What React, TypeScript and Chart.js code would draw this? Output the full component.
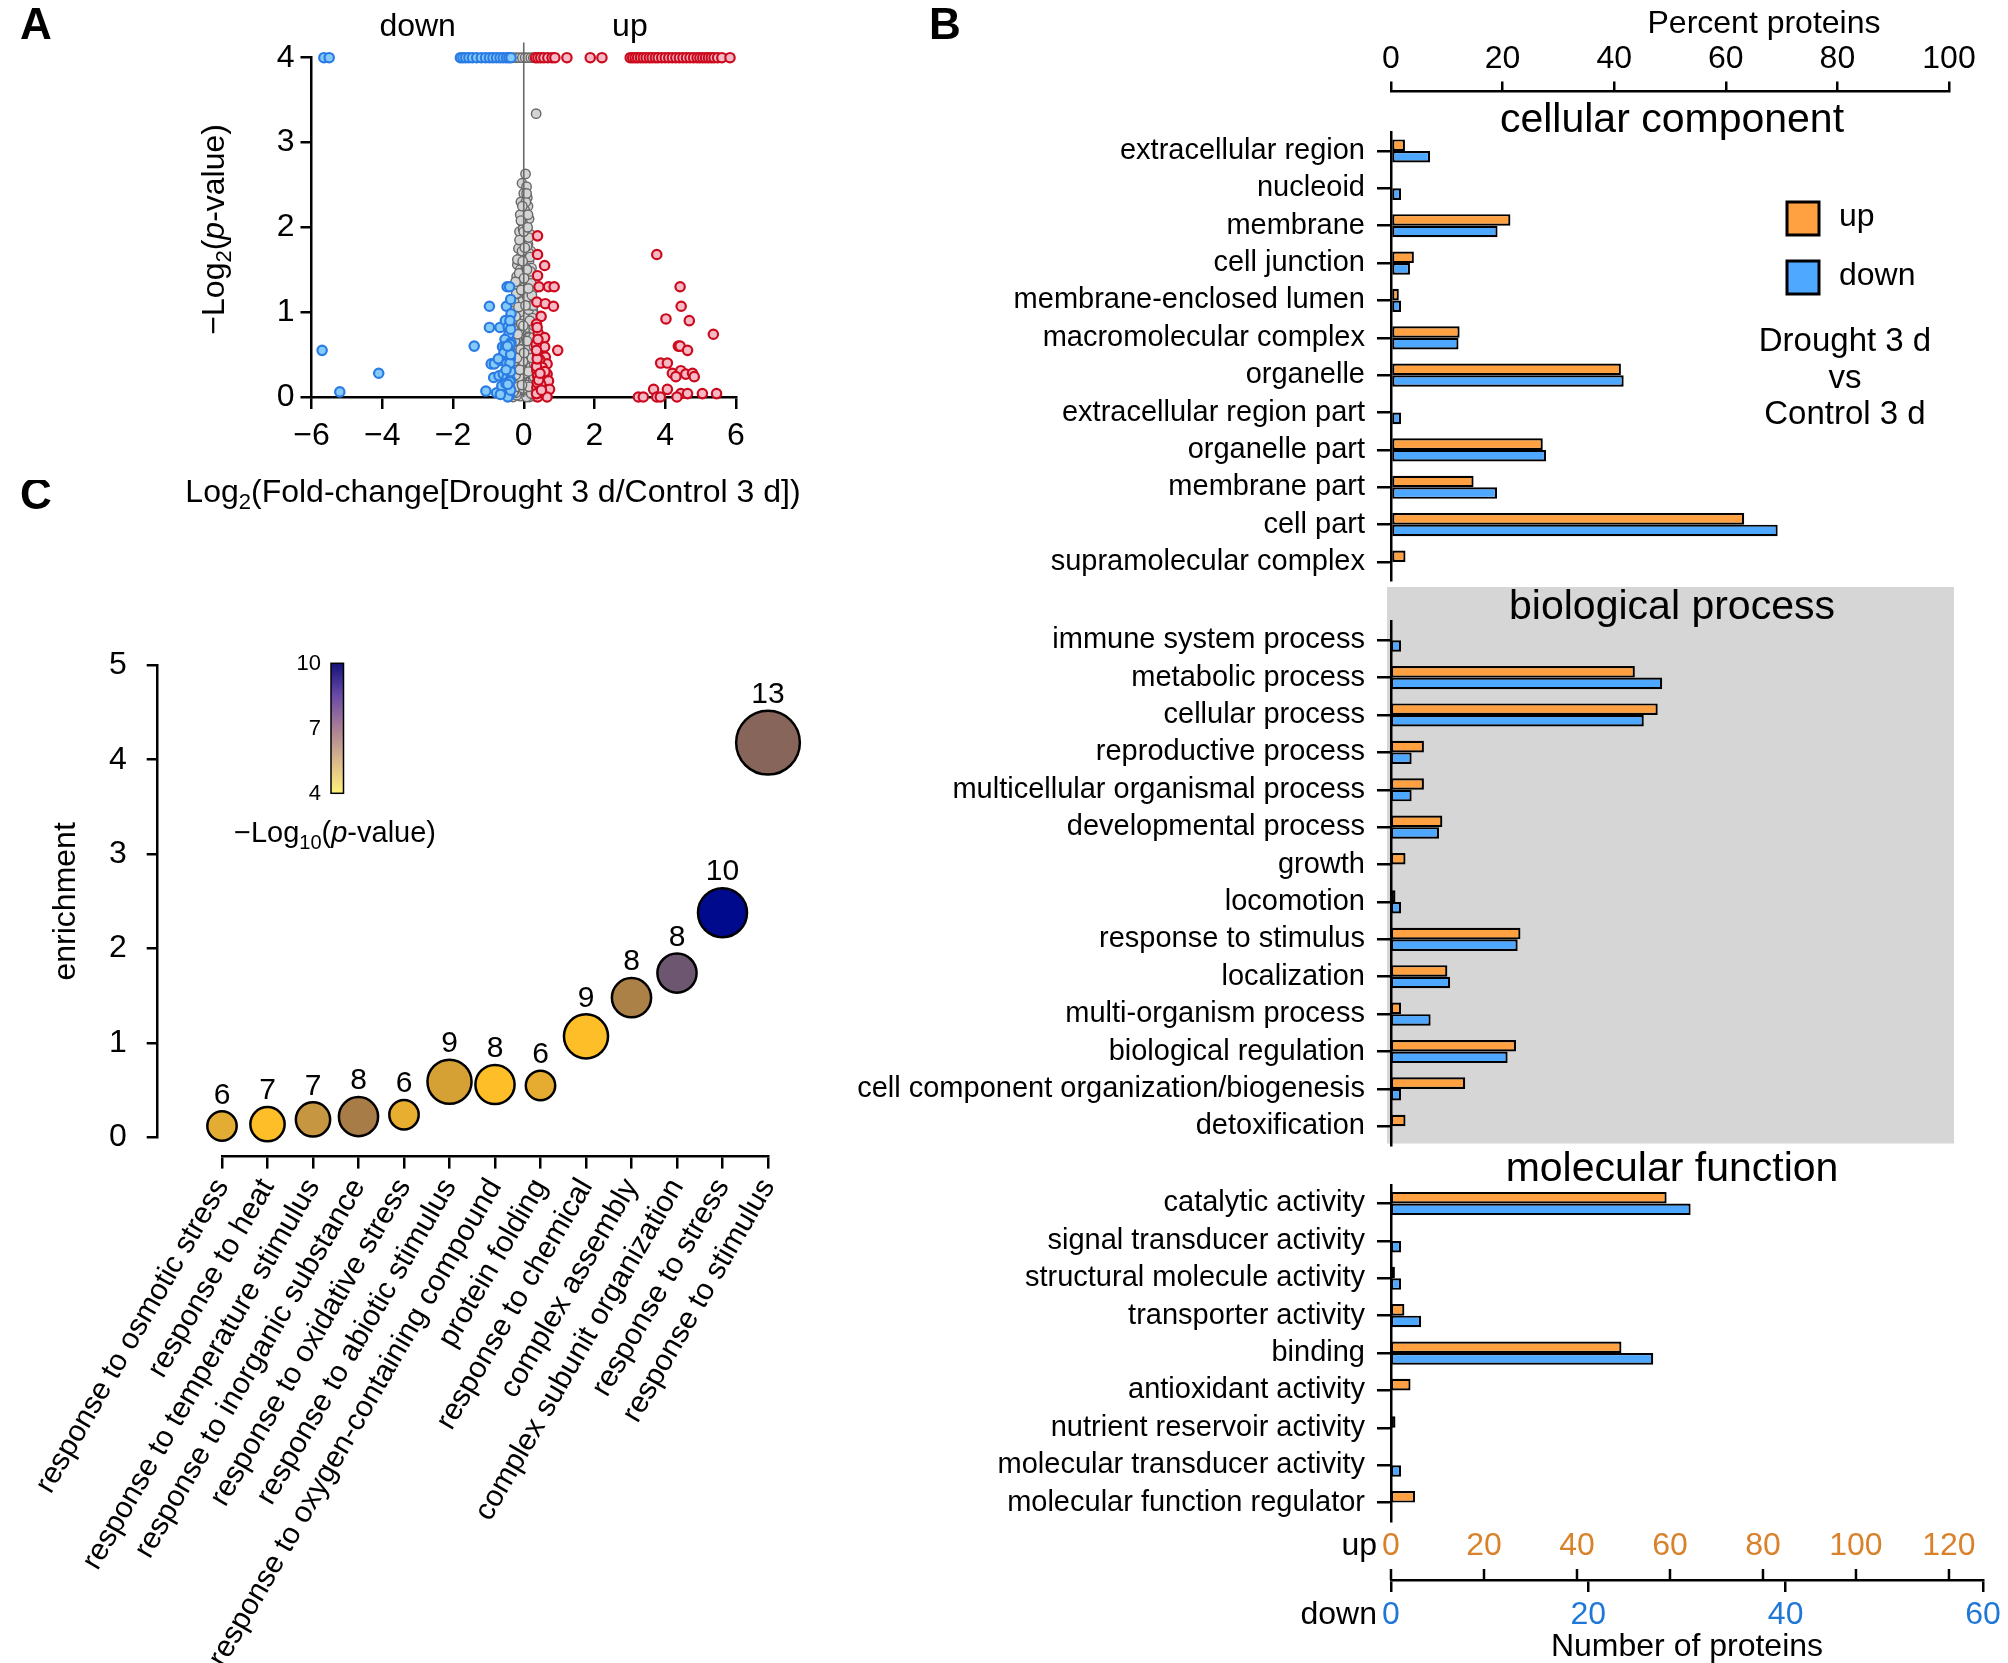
import React, { useEffect, useRef } from 'react';
import { Chart, registerables } from 'chart.js';

Chart.register(...registerables);

const FF = '"Liberation Sans", Arial, Helvetica, sans-serif';
Chart.defaults.font.family = FF;
Chart.defaults.color = '#000';

// ---------------- Panel A : volcano plot ----------------
const grayPts: number[][] = [
  [0.05, 2.63], [-0.05, 2.52], [0.08, 2.48], [0.0, 2.4], [0.1, 2.35], [-0.08, 2.3], [0.12, 2.25], [0.03, 2.2],
  [-0.1, 2.15], [0.15, 2.1], [-0.03, 2.05], [0.08, 2.0], [-0.12, 1.95], [0.18, 1.92], [0.02, 1.88], [-0.06, 1.82],
  [0.12, 1.8], [-0.15, 1.75], [0.2, 1.72], [0.05, 1.68], [-0.1, 1.64], [0.15, 1.6], [-0.18, 1.56], [0.0, 1.55],
  [0.22, 1.52], [-0.05, 1.48], [0.1, 1.45], [-0.2, 1.42], [0.18, 1.4], [0.03, 1.36], [-0.12, 1.33], [0.25, 1.3],
  [-0.25, 1.28], [0.08, 1.25], [-0.03, 1.22], [0.16, 1.2], [-0.18, 1.18], [0.22, 1.15], [0.0, 1.12], [-0.1, 1.1],
  [0.12, 1.06], [-0.22, 1.04], [0.26, 1.02], [0.05, 1.0], [-0.15, 0.97], [0.18, 0.95], [-0.05, 0.92], [0.28, 0.9],
  [-0.26, 0.88], [0.1, 0.86], [-0.1, 0.84], [0.2, 0.82], [0.0, 0.8], [-0.2, 0.78], [0.14, 0.76], [-0.28, 0.74],
  [0.25, 0.72], [0.06, 0.7], [-0.08, 0.68], [0.3, 0.66], [-0.16, 0.64], [0.12, 0.62], [-0.02, 0.6], [0.22, 0.58],
  [-0.24, 0.56], [0.08, 0.54], [-0.12, 0.52], [0.28, 0.5], [0.0, 0.48], [-0.3, 0.46], [0.16, 0.45], [-0.06, 0.43],
  [0.24, 0.41], [-0.2, 0.4], [0.1, 0.38], [-0.14, 0.36], [0.3, 0.35], [0.02, 0.33], [-0.26, 0.32], [0.18, 0.3],
  [-0.08, 0.28], [0.26, 0.27], [-0.18, 0.25], [0.06, 0.24], [-0.3, 0.22], [0.14, 0.21], [-0.02, 0.2], [0.3, 0.18],
  [-0.22, 0.17], [0.1, 0.16], [-0.12, 0.14], [0.22, 0.13], [-0.28, 0.12], [0.04, 0.11], [0.18, 0.09], [-0.16, 0.08],
  [0.28, 0.07], [-0.06, 0.06], [0.12, 0.05], [-0.24, 0.04], [0.24, 0.03], [0.0, 0.02], [-0.1, 0.01], [0.16, 0.0],
  [-0.3, 0.0], [0.3, 0.01], [-0.2, 0.02], [0.08, 0.0], [-0.14, 0.5], [0.2, 0.62], [-0.04, 0.9], [0.06, 1.15],
  [-0.08, 1.4], [0.14, 1.7], [-0.02, 1.98], [0.06, 2.3], [-0.25, 0.15], [0.2, 0.2], [-0.05, 0.35], [0.15, 0.4],
  [-0.18, 0.6], [0.02, 0.72], [0.27, 0.55], [-0.27, 0.62], [0.1, 0.95], [-0.2, 1.1], [0.35, 3.34],
  [-0.22, 0.05], [0.26, 0.1], [-0.15, 0.2], [0.05, 0.28], [-0.28, 0.3], [0.2, 0.35], [-0.1, 0.4], [0.28, 0.44],
  [-0.22, 0.48], [0.12, 0.52], [-0.3, 0.55], [0.05, 0.58], [0.25, 0.63], [-0.14, 0.66], [0.16, 0.7], [-0.24, 0.72],
  [0.3, 0.76], [-0.06, 0.78], [0.1, 0.82], [-0.18, 0.86], [0.22, 0.88], [-0.28, 0.92], [0.02, 0.95], [0.26, 0.98],
  [-0.12, 1.0], [0.14, 1.03], [-0.24, 1.06], [0.2, 1.08], [-0.04, 1.14], [0.1, 1.18], [-0.16, 1.22], [0.24, 1.25],
  [-0.22, 1.3], [0.02, 1.32], [0.16, 1.35], [-0.14, 1.38], [0.22, 1.44], [-0.1, 1.5], [0.06, 1.52], [-0.18, 1.62],
  [0.18, 1.65], [-0.05, 1.72], [0.1, 1.78], [-0.12, 1.85], [0.14, 1.88], [0.0, 1.95], [-0.08, 2.08], [0.12, 2.15],
  [-0.04, 2.25], [0.08, 2.4], [-0.26, 0.08], [0.18, 0.14], [-0.08, 0.18], [0.08, 0.08], [-0.18, 0.34], [0.26, 0.22],
  [-0.02, 0.42], [0.3, 0.28], [-0.3, 0.38], [0.14, 0.58], [-0.2, 0.68], [0.28, 0.8],
  [-0.29, 0.06], [-0.27, 0.19], [-0.29, 0.27], [-0.27, 0.42], [-0.29, 0.51], [-0.25, 0.66], [-0.29, 0.8],
  [-0.23, 0.95], [-0.27, 1.12], [-0.21, 1.22], [-0.23, 1.36], [0.29, 0.04], [0.27, 0.15], [0.29, 0.24],
  [0.27, 0.32], [0.29, 0.4], [0.27, 0.47], [0.29, 0.6], [0.27, 0.7], [0.29, 0.84], [0.25, 0.93], [0.27, 1.08],
  [0.23, 1.2], [0.21, 1.34], [0.19, 1.48], [-0.17, 0.12], [-0.13, 0.24], [-0.19, 0.46], [-0.09, 0.56],
  [-0.17, 0.74], [-0.07, 0.86], [-0.15, 1.06], [-0.07, 1.26], [-0.13, 1.46], [-0.03, 1.6], [0.07, 0.14],
  [0.13, 0.3], [0.19, 0.5], [0.09, 0.66], [0.17, 0.9], [0.05, 1.08], [0.13, 1.28], [0.09, 1.5], [0.03, 1.76],
  [0.11, 2.0], [-0.23, 0.26], [0.23, 0.46], [-0.01, 0.1], [0.01, 0.52], [-0.01, 0.84], [0.01, 1.4], [0.21, 0.04],
  [-0.11, 0.32], [0.15, 0.12], [-0.05, 0.14],
  [-0.28, 4], [-0.2, 4], [-0.12, 4], [-0.04, 4], [0.04, 4], [0.12, 4], [0.2, 4], [0.27, 4],
];
const downPts: number[][] = [
  [-5.65, 4], [-5.5, 4], [-1.79, 4], [-1.72, 4], [-1.64, 4], [-1.55, 4], [-1.45, 4], [-1.33, 4], [-1.2, 4],
  [-1.08, 4], [-0.97, 4], [-0.87, 4], [-0.77, 4], [-0.67, 4], [-0.58, 4], [-0.49, 4], [-0.42, 4], [-0.36, 4],
  [-5.7, 0.55], [-5.2, 0.06], [-4.1, 0.28], [-1.4, 0.6], [-0.97, 1.07], [-0.49, 1.07], [-0.47, 1.3], [-0.4, 1.3],
  [-0.97, 0.82], [-0.67, 0.82], [-0.52, 0.9], [-0.42, 0.74], [-0.53, 0.68], [-0.6, 0.59], [-0.52, 0.59],
  [-0.4, 0.55], [-0.42, 0.47], [-0.4, 0.35], [-0.92, 0.39], [-0.83, 0.39], [-0.85, 0.23], [-0.7, 0.25],
  [-0.58, 0.27], [-1.07, 0.07], [-0.77, 0.05], [-0.56, 0.09], [-0.4, 0.11], [-0.4, 0.02], [-0.45, 0.0],
  [-0.56, 0.52], [-0.65, 0.43], [-0.47, 0.23], [-0.62, 0.13], [-0.5, 0.16], [-0.38, 0.2], [-0.66, 0.03],
  [-0.36, 0.64], [-0.44, 0.83], [-0.36, 0.98], [-0.72, 0.45], [-0.48, 0.4], [-0.38, 0.45],
  [-0.37, 0.08], [-0.39, 0.18], [-0.37, 0.3], [-0.39, 0.4], [-0.37, 0.5], [-0.39, 0.62], [-0.37, 0.8],
  [-0.39, 0.9], [-0.37, 1.15], [-0.45, 0.15], [-0.5, 0.32], [-0.46, 0.6],
];
const upPts: number[][] = [
  [0.33, 4], [0.4, 4], [0.48, 4], [0.57, 4], [0.68, 4], [0.8, 4], [0.88, 4], [1.22, 4], [1.88, 4], [2.21, 4],
  [3.01, 4], [3.08, 4], [3.15, 4], [3.22, 4], [3.3, 4], [3.38, 4], [3.46, 4], [3.55, 4], [3.63, 4], [3.72, 4],
  [3.8, 4], [3.9, 4], [4.0, 4], [4.1, 4], [4.2, 4], [4.3, 4], [4.4, 4], [4.5, 4], [4.6, 4], [4.7, 4], [4.8, 4],
  [4.9, 4], [4.98, 4], [5.06, 4], [5.14, 4], [5.22, 4], [5.3, 4], [5.38, 4], [5.48, 4], [5.6, 4], [5.83, 4],
  [0.39, 1.9], [0.39, 1.68], [0.59, 1.55], [0.39, 1.43], [0.43, 1.3], [0.7, 1.3], [0.86, 1.3], [0.37, 1.12],
  [0.61, 1.1], [0.84, 1.07], [0.49, 0.95], [0.41, 0.75], [0.59, 0.7], [0.47, 0.59], [0.59, 0.59], [0.96, 0.55],
  [0.39, 0.51], [0.61, 0.47], [0.66, 0.39], [0.42, 0.39], [0.37, 0.31], [0.66, 0.27], [0.39, 0.25], [0.54, 0.21],
  [0.7, 0.19], [0.37, 0.11], [0.56, 0.09], [0.73, 0.09], [0.66, 0.0], [0.39, 0.0], [0.45, 0.44], [0.52, 0.35],
  [0.35, 0.62], [0.48, 0.15], [0.6, 0.3], [0.44, 0.05], [0.36, 0.86],
  [0.36, 0.04], [0.38, 0.17], [0.36, 0.36], [0.38, 0.45], [0.36, 0.55], [0.4, 0.68], [0.38, 0.82], [0.42, 0.2],
  [0.46, 0.28], [0.5, 0.08],
  [3.76, 1.68], [4.42, 1.3], [4.45, 1.07], [4.02, 0.92], [4.68, 0.9], [5.36, 0.74], [4.37, 0.6], [4.42, 0.6],
  [4.63, 0.55], [3.87, 0.4], [4.06, 0.4], [4.2, 0.28], [4.44, 0.31], [4.58, 0.27], [4.77, 0.28], [4.82, 0.24],
  [4.3, 0.24], [3.67, 0.09], [4.06, 0.09], [4.44, 0.04], [4.63, 0.04], [5.05, 0.04], [5.45, 0.04], [3.24, 0.0],
  [3.38, 0.0], [3.76, 0.0], [3.86, 0.0], [4.33, 0.0],
];

// ---------------- Panel B : GO categories (percent proteins) ----------------
const ccCats = ['extracellular region', 'nucleoid', 'membrane', 'cell junction', 'membrane-enclosed lumen',
  'macromolecular complex', 'organelle', 'extracellular region part', 'organelle part', 'membrane part',
  'cell part', 'supramolecular complex'];
const ccUp = [2.5, 0, 21.4, 4.1, 1.4, 12.3, 41.2, 0, 27.2, 14.8, 63.3, 2.6];
const ccDown = [7.0, 1.8, 19.1, 3.4, 1.8, 12.1, 41.7, 1.8, 27.8, 19.0, 69.3, 0];

const bpCats = ['immune system process', 'metabolic process', 'cellular process', 'reproductive process',
  'multicellular organismal process', 'developmental process', 'growth', 'locomotion', 'response to stimulus',
  'localization', 'multi-organism process', 'biological regulation', 'cell component organization/biogenesis',
  'detoxification'];
const bpUp = [0, 43.7, 47.8, 5.9, 5.9, 9.2, 2.6, 0.8, 23.2, 10.1, 1.8, 22.4, 13.3, 2.6];
const bpDown = [1.8, 48.6, 45.3, 3.7, 3.7, 8.6, 0, 1.8, 22.7, 10.6, 7.1, 20.9, 1.8, 0];

const mfCats = ['catalytic activity', 'signal transducer activity', 'structural molecule activity',
  'transporter activity', 'binding', 'antioxidant activity', 'nutrient reservoir activity',
  'molecular transducer activity', 'molecular function regulator'];
const mfUp = [49.4, 0, 0.7, 2.4, 41.3, 3.5, 0.8, 0, 4.3];
const mfDown = [53.7, 1.8, 1.8, 5.4, 47.0, 0, 0, 1.8, 0];

const PCT_MAX = 100;          // top axis: Percent proteins 0..100
const UP_AT_PCT_MAX = 120;    // "up" count that lines up with 100 %
const DOWN_AXIS_MAX = 60;     // "down" count axis end
const PCT_AT_DOWN_MAX = 106.1; // percent position of the end of the bottom axis

// ---------------- Panel C : enrichment bubbles ----------------
const cTerms = ['response to osmotic stress', 'response to heat', 'response to temperature stimulus',
  'response to inorganic substance', 'response to oxidative stress', 'response to abiotic stimulus',
  'response to oxygen-containing compound', 'protein folding', 'response to chemical', 'complex assembly',
  'complex subunit organization', 'response to stress', 'response to stimulus'];
const cEnrich = [0.12, 0.14, 0.19, 0.22, 0.24, 0.59, 0.56, 0.55, 1.07, 1.48, 1.74, 2.38, 4.18];
const cCounts = [6, 7, 7, 8, 6, 9, 8, 6, 9, 8, 8, 10, 13];
const cbarTicks = [4, 7, 10];

// styles
const cColors = ['#E3AC33', '#FDBE27', '#C79641', '#A87C46', '#E8AE30', '#D6A134', '#FDBE27', '#E6AC32',
  '#FDBE27', '#AC8148', '#6C5670', '#000A8C', '#87655A'];
const UP_COLOR = '#FFA041';
const DOWN_COLOR = '#4FA8FF';
const UP_TXT = '#D9822B';
const DOWN_TXT = '#1F78D8';
const R_PER_COUNT = 2.45;

type Seg = { t: string; sub?: boolean; it?: boolean };

function drawRich(ctx: CanvasRenderingContext2D, segs: Seg[], x: number, y: number, size: number,
  align: 'left' | 'center' | 'right' = 'center', rot = 0) {
  ctx.save();
  ctx.translate(x, y);
  ctx.rotate(rot);
  ctx.fillStyle = '#000';
  ctx.textBaseline = 'alphabetic';
  ctx.textAlign = 'left';
  const fonts = segs.map(s => `${s.it ? 'italic ' : ''}${s.sub ? Math.round(size * 0.68) : size}px ${FF}`);
  const ws = segs.map((s, i) => { ctx.font = fonts[i]; return ctx.measureText(s.t).width; });
  const total = ws.reduce((a, b) => a + b, 0);
  let cx = align === 'center' ? -total / 2 : align === 'right' ? -total : 0;
  const base = size * 0.36;
  segs.forEach((s, i) => {
    ctx.font = fonts[i];
    ctx.fillText(s.t, cx, s.sub ? base + size * 0.24 : base);
    cx += ws[i];
  });
  ctx.restore();
}

function drawText(ctx: CanvasRenderingContext2D, t: string, x: number, y: number, size: number,
  opts: { align?: CanvasTextAlign; bold?: boolean; color?: string } = {}) {
  ctx.save();
  ctx.font = `${opts.bold ? 'bold ' : ''}${size}px ${FF}`;
  ctx.fillStyle = opts.color || '#000';
  ctx.textAlign = opts.align || 'center';
  ctx.textBaseline = 'middle';
  ctx.fillText(t, x, y);
  ctx.restore();
}

const axisGrid = (tl: number) => ({
  display: true, drawOnChartArea: false, drawTicks: true, tickLength: tl, color: '#000', lineWidth: 2.5, offset: false,
});
const axisBorder = { display: true, color: '#000', width: 2.5 };
const hiddenGap = (position: string, weight: number, size: number, horiz: boolean) => ({
  type: 'linear', position, weight, display: true,
  grid: { display: false, drawTicks: false }, border: { display: false }, ticks: { display: false },
  afterFit: (s: any) => { if (horiz) s.height = size; else s.width = size; },
});
const fmtMinus = (v: any) => (Number(v) < 0 ? '\u2212' + Math.abs(Number(v)) : String(v));

// ---------- configs ----------
function cfgA(): any {
  const toXY = (a: number[][]) => a.map(([x, y]) => ({ x, y }));
  const pt = (fill: string, edge: string, bw: number) => ({
    backgroundColor: fill, borderColor: edge, pointBackgroundColor: fill, pointBorderColor: edge,
    pointRadius: 4.7, pointHoverRadius: 4.7, pointBorderWidth: bw, clip: false,
  });
  const plugin = {
    id: 'annotA',
    afterDatasetsDraw(chart: any) {
      const { ctx, scales: { x, y } } = chart;
      const px = x.getPixelForValue(0);
      ctx.save();
      ctx.strokeStyle = '#6a6a6a';
      ctx.lineWidth = 1.6;
      ctx.beginPath();
      ctx.moveTo(px, y.getPixelForValue(4.18));
      ctx.lineTo(px, y.getPixelForValue(0));
      ctx.stroke();
      ctx.restore();
    },
    afterDraw(chart: any) {
      const { ctx, scales: { x, y } } = chart;
      drawText(ctx, 'down', x.getPixelForValue(-3), 27, 32);
      drawText(ctx, 'up', x.getPixelForValue(3), 27, 32);
      drawText(ctx, 'A', 36, 27, 44, { bold: true });
      drawRich(ctx, [{ t: '\u2212Log' }, { t: '2', sub: true }, { t: '(' }, { t: 'p', it: true }, { t: '-value)' }],
        212, (y.top + y.bottom) / 2 + 2, 32, 'center', -Math.PI / 2);
      drawRich(ctx, [{ t: 'Log' }, { t: '2', sub: true }, { t: '(Fold-change[Drought 3 d/Control 3 d])' }],
        493, 490, 32, 'center');
    },
  };
  return {
    type: 'scatter',
    data: {
      datasets: [
        { label: 'down', data: toXY(downPts), ...pt('#86CBF8', '#2A7BE4', 2.2) },
        { label: 'up', data: toXY(upPts), ...pt('#F6BAC6', '#CC0A1E', 2.2) },
        { label: 'unchanged', data: toXY(grayPts), ...pt('#D4D4D4', '#686868', 1.4) },
      ],
    },
    options: {
      responsive: false, animation: false, events: [],
      layout: { padding: { top: 57.7, right: 84, left: 0, bottom: 0 } },
      plugins: { legend: { display: false }, tooltip: { enabled: false } },
      scales: {
        x: {
          type: 'linear', min: -6, max: 6, position: 'bottom',
          ticks: { stepSize: 2, font: { size: 32 }, color: '#000', padding: 8, callback: fmtMinus },
          grid: axisGrid(12), border: axisBorder,
          afterFit: (s: any) => { s.height = 123; },
        },
        y: {
          type: 'linear', min: 0, max: 4, position: 'left',
          ticks: { stepSize: 1, font: { size: 32 }, color: '#000', padding: 6 },
          grid: axisGrid(11), border: axisBorder,
          afterFit: (s: any) => { s.width = 311.5; },
        },
      },
    },
    plugins: [plugin],
  };
}

function barDatasets(up: number[], down: number[]) {
  const common = {
    borderColor: '#000', borderWidth: 2.2, borderSkipped: false, categoryPercentage: 0.62, barPercentage: 1,
    xAxisID: 'x', yAxisID: 'y',
  };
  return [
    { label: 'up', data: up, backgroundColor: UP_COLOR, ...common },
    { label: 'down', data: down, backgroundColor: DOWN_COLOR, ...common },
  ];
}

const catAxis = () => ({
  type: 'category', position: 'left', offset: true,
  ticks: { font: { size: 29 }, color: '#000', padding: 12, autoSkip: false },
  grid: axisGrid(14), border: axisBorder,
  afterFit: (s: any) => { s.width = 551; },
});

function cfgCC(): any {
  const plugin = {
    id: 'annotCC',
    afterDraw(chart: any) {
      const { ctx } = chart;
      drawText(ctx, 'B', 105, 27, 44, { bold: true });
      drawText(ctx, 'Percent proteins', 924, 24, 32);
      drawText(ctx, 'cellular component', 832, 121, 41);
      const ds = chart.data.datasets;
      [0, 1].forEach(i => {
        const top = 202 + i * 59;
        ctx.save();
        ctx.fillStyle = ds[i].backgroundColor;
        ctx.fillRect(947, top, 32, 33);
        ctx.strokeStyle = '#000';
        ctx.lineWidth = 3;
        ctx.strokeRect(947, top, 32, 33);
        ctx.restore();
        drawText(ctx, ds[i].label, 999, top + 15, 32, { align: 'left' });
      });
      drawText(ctx, 'Drought 3 d', 1005, 342, 33);
      drawText(ctx, 'vs', 1005, 379, 33);
      drawText(ctx, 'Control 3 d', 1005, 415, 33);
    },
  };
  return {
    type: 'bar',
    data: { labels: ccCats, datasets: barDatasets(ccUp, ccDown) },
    options: {
      indexAxis: 'y', responsive: false, animation: false, events: [],
      layout: { padding: { top: 0, right: 59, bottom: 30.3, left: 0 } },
      plugins: { legend: { display: false }, tooltip: { enabled: false } },
      scales: {
        x: {
          type: 'linear', position: 'top', weight: 1, min: 0, max: PCT_MAX,
          ticks: { stepSize: 20, font: { size: 32 }, color: '#000', padding: 3 },
          grid: axisGrid(10), border: axisBorder,
          afterFit: (s: any) => { s.height = 91.5; },
        },
        gapTop: hiddenGap('top', 0, 40.8, true),
        y: catAxis(),
      },
    },
    plugins: [plugin],
  };
}

function cfgBP(): any {
  const plugin = {
    id: 'annotBP',
    beforeDraw(chart: any) {
      const { ctx, chartArea } = chart;
      ctx.save();
      ctx.fillStyle = '#D6D6D6';
      ctx.fillRect(chartArea.left - 4, 0, chartArea.right - chartArea.left + 9, chartArea.bottom - 1.5);
      ctx.restore();
    },
    afterDraw(chart: any) {
      drawText(chart.ctx, 'biological process', 832, 21, 41);
    },
  };
  return {
    type: 'bar',
    data: { labels: bpCats, datasets: barDatasets(bpUp, bpDown) },
    options: {
      indexAxis: 'y', responsive: false, animation: false, events: [],
      layout: { padding: { top: 34.5, right: 59, bottom: 32, left: 0 } },
      plugins: { legend: { display: false }, tooltip: { enabled: false } },
      scales: {
        x: { type: 'linear', display: false, min: 0, max: PCT_MAX },
        y: catAxis(),
      },
    },
    plugins: [plugin],
  };
}

function cfgMF(): any {
  const plugin = {
    id: 'annotMF',
    afterDraw(chart: any) {
      const { ctx, chartArea } = chart;
      const up = chart.scales.up;
      const down = chart.scales.down;
      drawText(ctx, 'molecular function', 832, 23, 41);
      const yb = down.top;
      ctx.save();
      ctx.strokeStyle = '#000';
      ctx.lineWidth = 2.5;
      up.ticks.forEach((t: any) => {
        const x = up.getPixelForValue(t.value);
        ctx.beginPath();
        ctx.moveTo(x, yb);
        ctx.lineTo(x, yb - 11);
        ctx.stroke();
      });
      ctx.restore();
      drawText(ctx, 'up', chartArea.left - 14, up.top + 25, 32, { align: 'right' });
      drawText(ctx, 'down', chartArea.left - 14, down.top + 35, 32, { align: 'right' });
    },
  };
  return {
    type: 'bar',
    data: { labels: mfCats, datasets: barDatasets(mfUp, mfDown) },
    options: {
      indexAxis: 'y', responsive: false, animation: false, events: [],
      layout: { padding: { top: 37.8, right: 25, bottom: 0, left: 0 } },
      plugins: { legend: { display: false }, tooltip: { enabled: false } },
      scales: {
        x: { type: 'linear', display: false, min: 0, max: PCT_AT_DOWN_MAX },
        y: catAxis(),
        up: {
          type: 'linear', position: 'bottom', weight: 0, min: 0,
          max: UP_AT_PCT_MAX * PCT_AT_DOWN_MAX / PCT_MAX,
          ticks: { stepSize: 20, includeBounds: false, font: { size: 32 }, color: UP_TXT, padding: 5.5 },
          grid: { display: false, drawTicks: false }, border: { display: false },
          afterFit: (s: any) => { s.height = 58.7; },
        },
        down: {
          type: 'linear', position: 'bottom', weight: 1, min: 0, max: DOWN_AXIS_MAX,
          ticks: { stepSize: 20, font: { size: 32 }, color: DOWN_TXT, padding: 3.5 },
          grid: axisGrid(12), border: axisBorder,
          title: { display: true, text: 'Number of proteins', font: { size: 32, lineHeight: 1 }, padding: 0, color: '#000' },
          afterFit: (s: any) => { s.height = 83; },
        },
      },
    },
    plugins: [plugin],
  };
}

function cfgC(): any {
  const plugin = {
    id: 'annotC',
    afterDatasetsDraw(chart: any) {
      const { ctx } = chart;
      const meta = chart.getDatasetMeta(0);
      meta.data.forEach((el: any, i: number) => {
        const r = cCounts[i] * R_PER_COUNT;
        drawText(ctx, String(cCounts[i]), el.x, el.y - r - 16, 30);
      });
    },
    afterDraw(chart: any) {
      const { ctx } = chart;
      drawText(ctx, 'C', 36, 17, 44, { bold: true });
      // colour bar
      const x0 = 331, w = 12.5, yTop = 183.3, yBot = 313.3;
      const g = ctx.createLinearGradient(0, yBot, 0, yTop);
      g.addColorStop(0, '#FFF27A');
      g.addColorStop(0.25, '#D9B88E');
      g.addColorStop(0.5, '#A97F95');
      g.addColorStop(0.75, '#6A4BA8');
      g.addColorStop(1, '#14127A');
      ctx.save();
      ctx.fillStyle = g;
      ctx.fillRect(x0, yTop, w, yBot - yTop);
      ctx.strokeStyle = '#000';
      ctx.lineWidth = 1.5;
      ctx.strokeRect(x0, yTop, w, yBot - yTop);
      ctx.restore();
      const lo = cbarTicks[0], hi = cbarTicks[cbarTicks.length - 1];
      cbarTicks.forEach(v => {
        const yy = yBot - (v - lo) / (hi - lo) * (yBot - yTop);
        drawText(ctx, String(v), 321, yy + 1, 22, { align: 'right' });
      });
      drawRich(ctx, [{ t: '\u2212Log' }, { t: '10', sub: true }, { t: '(' }, { t: 'p', it: true }, { t: '-value)' }],
        335, 352, 29, 'center');
    },
  };
  return {
    type: 'bubble',
    data: {
      datasets: [{
        label: 'GO terms',
        data: cTerms.map((_, i) => ({ x: i, y: cEnrich[i], r: cCounts[i] * R_PER_COUNT })),
        backgroundColor: cColors, borderColor: '#000', borderWidth: 2.5, hoverRadius: 0, clip: false,
        xAxisID: 'x', yAxisID: 'y',
      }],
    },
    options: {
      responsive: false, animation: false, events: [],
      layout: { padding: { top: 185.3, right: 52, bottom: 0, left: 0 } },
      plugins: { legend: { display: false }, tooltip: { enabled: false } },
      scales: {
        x: {
          type: 'linear', position: 'bottom', weight: 1, min: 0, max: cTerms.length - 1,
          ticks: {
            stepSize: 1, autoSkip: false, minRotation: 60, maxRotation: 60, font: { size: 30 }, color: '#000',
            padding: 4, callback: (v: any) => cTerms[Number(v)] ?? '',
          },
          grid: axisGrid(12), border: axisBorder,
          afterFit: (s: any) => { s.height = 506.4; },
        },
        gapB: hiddenGap('bottom', 0, 19.2, true),
        y: {
          type: 'linear', position: 'left', weight: 1, min: 0, max: 5,
          ticks: { stepSize: 1, font: { size: 32 }, color: '#000', padding: 20 },
          grid: axisGrid(11), border: axisBorder,
          title: { display: true, text: 'enrichment', font: { size: 32, lineHeight: 1 }, padding: { top: 50, bottom: 0 }, color: '#000' },
          afterFit: (s: any) => { s.width = 157.7; },
        },
        gapL: hiddenGap('left', 0, 64.3, false),
      },
    },
    plugins: [plugin],
  };
}

const panels = [
  { key: 'A', left: 0, top: 0, w: 820, h: 520, cfg: cfgA },
  { key: 'C', left: 0, top: 480, w: 820, h: 1183, cfg: cfgC },
  { key: 'CC', left: 840, top: 0, w: 1168, h: 611, cfg: cfgCC },
  { key: 'BP', left: 840, top: 587, w: 1168, h: 590, cfg: cfgBP },
  { key: 'MF', left: 840, top: 1147, w: 1168, h: 516, cfg: cfgMF },
];

export default function App() {
  const refs = useRef<(HTMLCanvasElement | null)[]>([]);
  useEffect(() => {
    document.body.style.margin = '0';
    document.body.style.background = '#fff';
    const charts = panels.map((p, i) => new Chart(refs.current[i] as HTMLCanvasElement, p.cfg()));
    return () => charts.forEach(c => c.destroy());
  }, []);
  return (
    <div style={{ position: 'relative', width: 2008, height: 1663, background: '#fff', overflow: 'hidden' }}>
      {panels.map((p, i) => (
        <canvas
          key={p.key}
          ref={el => { refs.current[i] = el; }}
          width={p.w}
          height={p.h}
          style={{ position: 'absolute', left: p.left, top: p.top, width: p.w, height: p.h }}
        />
      ))}
    </div>
  );
}
